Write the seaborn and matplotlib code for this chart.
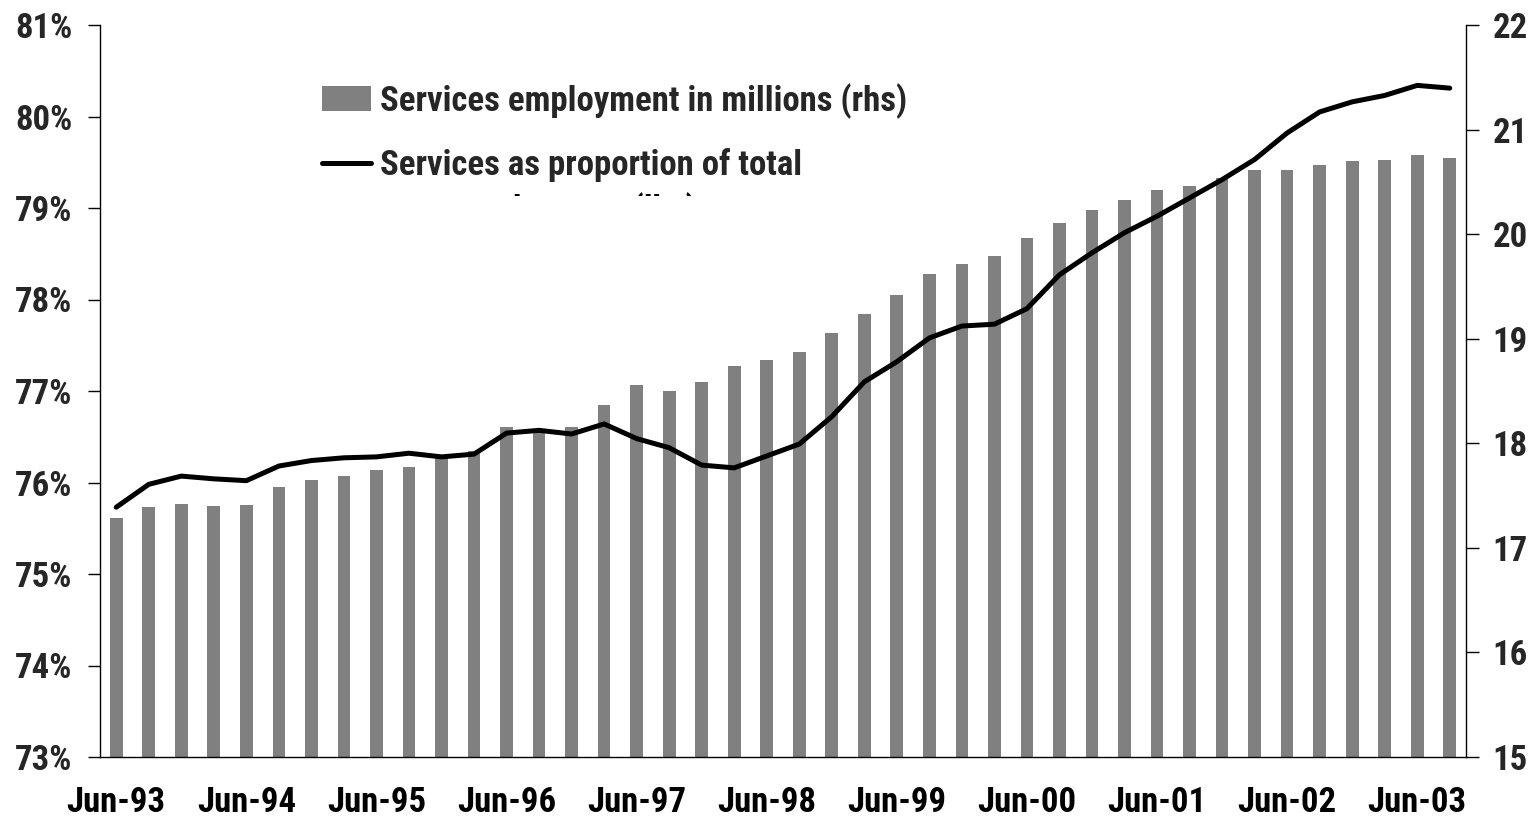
import numpy as np
import pandas as pd
import matplotlib
matplotlib.use("Agg")
import matplotlib.pyplot as plt
import seaborn as sns
from matplotlib import font_manager
from matplotlib.patches import Patch
from matplotlib.lines import Line2D
from matplotlib.transforms import Bbox, TransformedBbox
from matplotlib.ticker import FixedLocator, FuncFormatter

# ---------------- data ----------------
quarters = [d.strftime("%b-%y") for d in pd.date_range("1993-06-30", periods=42, freq="QE-DEC")]

services_employment_m = [
    17.29, 17.39, 17.42, 17.40, 17.41, 17.58, 17.65, 17.69, 17.74, 17.77,
    17.86, 17.93, 18.16, 18.13, 18.16, 18.37, 18.56, 18.50, 18.59, 18.74,
    18.80, 18.87, 19.05, 19.24, 19.42, 19.62, 19.71, 19.79, 19.96, 20.11,
    20.23, 20.33, 20.42, 20.46, 20.54, 20.61, 20.61, 20.66, 20.70, 20.71,
    20.76, 20.73,
]

services_share_pct = [
    75.73, 75.98, 76.07, 76.04, 76.02, 76.18, 76.24, 76.27, 76.28, 76.32,
    76.28, 76.31, 76.54, 76.57, 76.53, 76.64, 76.48, 76.38, 76.19, 76.16,
    76.29, 76.42, 76.72, 77.10, 77.32, 77.58, 77.71, 77.73, 77.90, 78.27,
    78.51, 78.73, 78.91, 79.11, 79.31, 79.53, 79.82, 80.05, 80.16, 80.23,
    80.34, 80.31,
]

left_ticks = [73, 74, 75, 76, 77, 78, 79, 80, 81]
right_ticks = [15, 16, 17, 18, 19, 20, 21, 22]

bar_label = "Services employment in millions (rhs)"
line_label = "Services as proportion of total"
line_label_2 = "employment (lhs)"

# ---------------- style ----------------
sns.set_style("white")
available = {f.name for f in font_manager.fontManager.ttflist}
fam = [f for f in ["Liberation Sans Narrow", "DejaVu Sans Condensed", "Roboto Condensed", "Liberation Sans"] if f in available]
fam.append("DejaVu Sans")
plt.rcParams["font.family"] = fam

FS = 25
W, H = 1539, 825
fig = plt.figure(figsize=(W / 100, H / 100), dpi=100)
ax = fig.add_axes([100 / W, 1 - 757 / H, 1366 / W, 732 / H])
axr = ax.twinx()

df = pd.DataFrame({
    "quarter": quarters,
    "pos": np.arange(len(quarters)),
    "emp": services_employment_m,
    "share": services_share_pct,
})

# bars on right axis
sns.barplot(data=df, x="quarter", y="emp", ax=axr, color="#808080",
            saturation=1, width=0.39, edgecolor="none")
# line on left axis
sns.lineplot(data=df, x="pos", y="share", ax=ax, color="black",
             linewidth=3.6, solid_capstyle="round", solid_joinstyle="round")

# make line axis sit above bars
ax.set_zorder(axr.get_zorder() + 1)
ax.patch.set_visible(False)

n = len(quarters)
ax.set_xlim(-0.5, n - 0.5)
ax.set_ylim(73, 81)
axr.set_ylim(15, 22)

# y ticks
ax.yaxis.set_major_locator(FixedLocator(left_ticks))
ax.yaxis.set_major_formatter(FuncFormatter(lambda v, p: f"{v:.0f}%"))
axr.yaxis.set_major_locator(FixedLocator(right_ticks))
axr.yaxis.set_major_formatter(FuncFormatter(lambda v, p: f"{v:.0f}"))

# x ticks: labels at June quarters, tick marks at quarter boundaries
jun_pos = [i for i, q in enumerate(quarters) if q.startswith("Jun")]
ax.set_xticks(jun_pos)
ax.set_xticklabels([quarters[i] for i in jun_pos])
ax.set_xticks(np.arange(n + 1) - 0.5, minor=True)
ax.tick_params(axis="x", which="major", length=0, pad=21, labelsize=FS, labelcolor="black")
ax.tick_params(axis="x", which="minor", length=9, width=1, color="black", direction="out")
ax.tick_params(axis="y", which="major", length=9, width=1, color="black", direction="out",
               pad=11, labelsize=FS, left=True)
axr.tick_params(axis="y", which="major", length=9, width=1, color="black", direction="out",
                pad=10, labelsize=FS, right=True)

for lab in ax.get_xticklabels() + ax.get_yticklabels() + axr.get_yticklabels():
    lab.set_fontweight("bold")

ax.set_xlabel("")
ax.set_ylabel("")
axr.set_ylabel("")
axr.set_xlabel("")

for s in ["top", "right"]:
    ax.spines[s].set_visible(False)
for s in ["top", "left", "bottom"]:
    axr.spines[s].set_visible(False)
for a in (ax, axr):
    for s in a.spines.values():
        s.set_color("black")
        s.set_linewidth(1)
ax.grid(False)
axr.grid(False)

# legend
handles = [Patch(facecolor="#808080", edgecolor="none"),
           Line2D([0], [0], color="black", linewidth=3.6)]
leg = ax.legend(handles, [bar_label, line_label], loc="upper left",
                bbox_to_anchor=(0.1625, 0.921), frameon=False, fontsize=FS,
                borderpad=0, borderaxespad=0, handlelength=1.4, handletextpad=0.28,
                labelspacing=0.85, handleheight=0.72)
for t in leg.get_texts():
    t.set_fontweight("bold")

# second (clipped) line of the line-series legend label
t2 = fig.text(575 / W, 1 - 192 / H, line_label_2, ha="center", va="top",
              fontsize=FS, fontweight="bold", color="black")
t2.set_clip_box(TransformedBbox(Bbox([[0, 1 - 196 / H], [1, 1]]), fig.transFigure))
t2.set_clip_on(True)

fig.savefig("out.png", dpi=100)
